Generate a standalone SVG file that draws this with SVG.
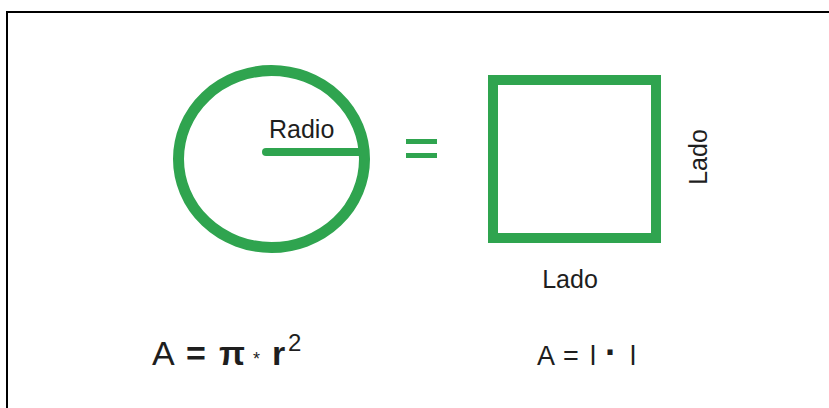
<svg xmlns="http://www.w3.org/2000/svg" width="829" height="408" viewBox="0 0 829 408">
<style>
.g{fill:none;stroke:#2fa44f;}
.t{font-family:"Liberation Sans",Arial,sans-serif;fill:#1e1e1e;}
</style>
<rect width="829" height="408" fill="#fff"/>
<path d="M7 408 V12 H829" fill="none" stroke="#000" stroke-width="2"/>
<g id="circle">
<ellipse class="g" cx="271.5" cy="159" rx="93" ry="88.5" stroke-width="11"/>
<text class="t" x="269" y="138" font-size="25">Radio</text>
</g>
<g id="connectors">
<line class="g" x1="266" y1="152" x2="364" y2="152" stroke-width="8" stroke-linecap="round"/>
</g>
<g id="equals">
<rect x="406" y="139" width="31" height="5" fill="#2fa44f"/>
<rect x="406" y="153" width="31" height="5" fill="#2fa44f"/>
</g>
<g id="square">
<rect class="g" x="493" y="80" width="163" height="158" stroke-width="10"/>
<text class="t" x="707" y="157" font-size="25" text-anchor="middle" transform="rotate(-90 707 157)">Lado</text>
<text class="t" x="570" y="288" font-size="25" text-anchor="middle">Lado</text>
</g>
<g id="formula-circle">
<text class="t" y="365" font-size="34"><tspan x="152">A</tspan><tspan x="186" font-weight="bold">=</tspan><tspan x="219" font-weight="bold">π</tspan><tspan x="253" font-size="18">*</tspan><tspan x="272" font-weight="bold">r</tspan><tspan x="288" y="351" font-size="24">2</tspan></text>
</g>
<g id="formula-square">
<text class="t" y="365" font-size="27"><tspan x="537">A</tspan><tspan x="563">=</tspan><tspan x="590">l</tspan><tspan x="605" font-size="36" font-weight="bold">·</tspan><tspan x="630">l</tspan></text>
</g>
</svg>
